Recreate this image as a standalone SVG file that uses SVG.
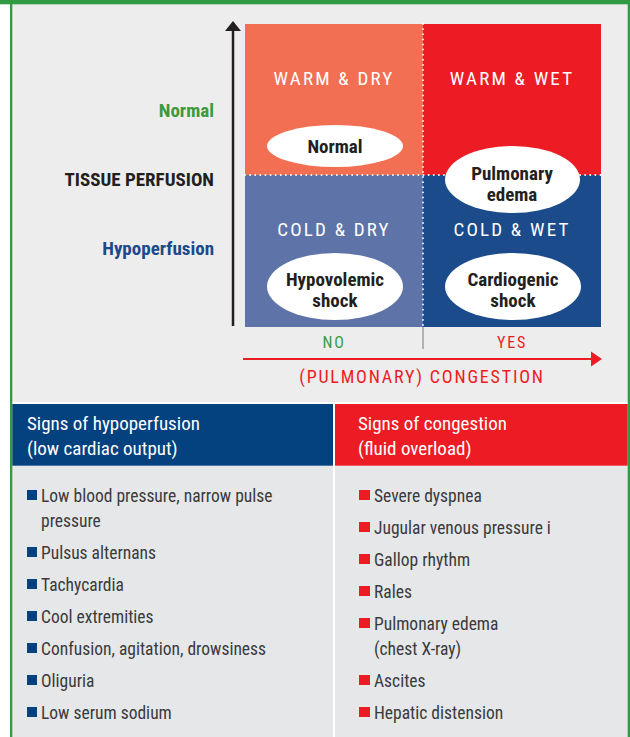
<svg xmlns="http://www.w3.org/2000/svg" width="630" height="737" viewBox="0 0 630 737">
<style>
text{font-family:"Liberation Sans Narrow","Roboto Condensed","DejaVu Sans Condensed",sans-serif;}
.q{font-size:19px;fill:#fff;letter-spacing:2.2px;text-anchor:middle;}
.e{font-size:19px;fill:#231f20;text-anchor:middle;font-weight:bold;}
.ax{font-size:19px;text-anchor:end;font-weight:bold;}
.h{font-size:19px;fill:#fff;}
.b{font-size:17.5px;fill:#3a3a3c;}
.bl{fill:#03417f;}
.rd{fill:#ed1c24;}
</style>
<rect x="0" y="0" width="630" height="737" fill="#ffffff"/>
<rect x="10" y="0" width="620" height="402" fill="#ededed"/>
<rect x="12" y="466" width="616" height="271" fill="#e6e7e8"/>
<rect x="0" y="0" width="630" height="4.3" fill="#339a44"/>
<rect x="10" y="0" width="2.3" height="737" fill="#339a44"/>
<rect x="627.7" y="0" width="2.3" height="737" fill="#339a44"/>
<rect x="333" y="404" width="2" height="333" fill="#ffffff"/>

<g id="quad-warm-dry">
<rect x="245" y="24" width="178" height="151" fill="#f26f53"/>
<text class="q" x="334" y="85">WARM &amp; DRY</text>
<ellipse cx="335" cy="146" rx="68" ry="21" fill="#fff"/>
<text class="e" x="335" y="153">Normal</text>
</g>
<g id="quad-warm-wet">
<rect x="423" y="24" width="178" height="151" fill="#ed1c24"/>
<text class="q" x="512" y="85">WARM &amp; WET</text>
</g>
<g id="quad-cold-dry">
<rect x="245" y="175" width="178" height="152" fill="#5e73a8"/>
<text class="q" x="334" y="236">COLD &amp; DRY</text>
<ellipse cx="335" cy="286.5" rx="68" ry="33.5" fill="#fff"/>
<text class="e" x="335" y="286">Hypovolemic</text>
<text class="e" x="335" y="307">shock</text>
</g>
<g id="quad-cold-wet">
<rect x="423" y="175" width="178" height="152" fill="#1b4b8a"/>
<text class="q" x="512" y="236">COLD &amp; WET</text>
<ellipse cx="513" cy="286.5" rx="68" ry="33.5" fill="#fff"/>
<text class="e" x="513" y="286">Cardiogenic</text>
<text class="e" x="513" y="307">shock</text>
</g>
<g id="pulmonary-edema">
<ellipse cx="512.5" cy="179.5" rx="67.5" ry="33.5" fill="#fff"/>
</g>
<g id="dividers" stroke="#fff" stroke-width="1.8" stroke-dasharray="0.1 5" stroke-linecap="round" fill="none">
<line x1="423" y1="24" x2="423" y2="327"/>
<line x1="245" y1="175" x2="445" y2="175"/>
<line x1="580" y1="175" x2="601" y2="175"/>
</g>
<g id="pulmonary-edema-text">
<text class="e" x="512" y="180">Pulmonary</text>
<text class="e" x="512" y="201">edema</text>
</g>

<g id="connectors">
<line x1="233" y1="326" x2="233" y2="30" stroke="#231f20" stroke-width="2.5"/>
<path d="M225,31 L233,21 L241,31 Z" fill="#231f20"/>
<line x1="243" y1="359" x2="593" y2="359" stroke="#ed1c24" stroke-width="2"/>
<path d="M591,351.5 L602,359 L591,366.5 Z" fill="#ed1c24"/>
<line x1="423" y1="327" x2="423" y2="349" stroke="#777" stroke-width="1"/>
</g>

<g id="axis-labels">
<text class="ax" x="214" y="117" fill="#3a9a3f">Normal</text>
<text class="ax" x="214" y="186" fill="#231f20">TISSUE PERFUSION</text>
<text class="ax" x="214" y="255" fill="#1b4a8a">Hypoperfusion</text>
<text x="334" y="348" font-size="16" letter-spacing="1.8" text-anchor="middle" fill="#3a9a3f">NO</text>
<text x="512" y="348" font-size="16" letter-spacing="1.8" text-anchor="middle" fill="#ed1c24">YES</text>
<text x="422" y="383" font-size="18" letter-spacing="1.8" text-anchor="middle" fill="#ed1c24">(PULMONARY) CONGESTION</text>
</g>

<g id="hypoperfusion-signs">
<rect x="12.3" y="404" width="320.7" height="61.7" fill="#03417f"/>
<text class="h" x="27" y="430">Signs of hypoperfusion</text>
<text class="h" x="27" y="455">(low cardiac output)</text>
<rect class="bl" x="27" y="490" width="10" height="10"/>
<text class="b" x="41" y="502">Low blood pressure, narrow pulse</text>
<text class="b" x="41" y="527">pressure</text>
<rect class="bl" x="27" y="547" width="10" height="10"/>
<text class="b" x="41" y="559">Pulsus alternans</text>
<rect class="bl" x="27" y="579" width="10" height="10"/>
<text class="b" x="41" y="591">Tachycardia</text>
<rect class="bl" x="27" y="611" width="10" height="10"/>
<text class="b" x="41" y="623">Cool extremities</text>
<rect class="bl" x="27" y="643" width="10" height="10"/>
<text class="b" x="41" y="655">Confusion, agitation, drowsiness</text>
<rect class="bl" x="27" y="675" width="10" height="10"/>
<text class="b" x="41" y="687">Oliguria</text>
<rect class="bl" x="27" y="707" width="10" height="10"/>
<text class="b" x="41" y="719">Low serum sodium</text>
</g>

<g id="congestion-signs">
<rect x="335" y="404" width="292.7" height="61.7" fill="#ed1c24"/>
<text class="h" x="358" y="430">Signs of congestion</text>
<text class="h" x="358" y="455">(fluid overload)</text>
<rect class="rd" x="359" y="490" width="11" height="10"/>
<text class="b" x="374" y="502">Severe dyspnea</text>
<rect class="rd" x="359" y="522" width="11" height="10"/>
<text class="b" x="374" y="534">Jugular venous pressure i</text>
<rect class="rd" x="359" y="554" width="11" height="10"/>
<text class="b" x="374" y="566">Gallop rhythm</text>
<rect class="rd" x="359" y="586" width="11" height="10"/>
<text class="b" x="374" y="598">Rales</text>
<rect class="rd" x="359" y="618" width="11" height="10"/>
<text class="b" x="374" y="630">Pulmonary edema</text>
<text class="b" x="374" y="655">(chest X-ray)</text>
<rect class="rd" x="359" y="675" width="11" height="10"/>
<text class="b" x="374" y="687">Ascites</text>
<rect class="rd" x="359" y="707" width="11" height="10"/>
<text class="b" x="374" y="719">Hepatic distension</text>
</g>
</svg>
